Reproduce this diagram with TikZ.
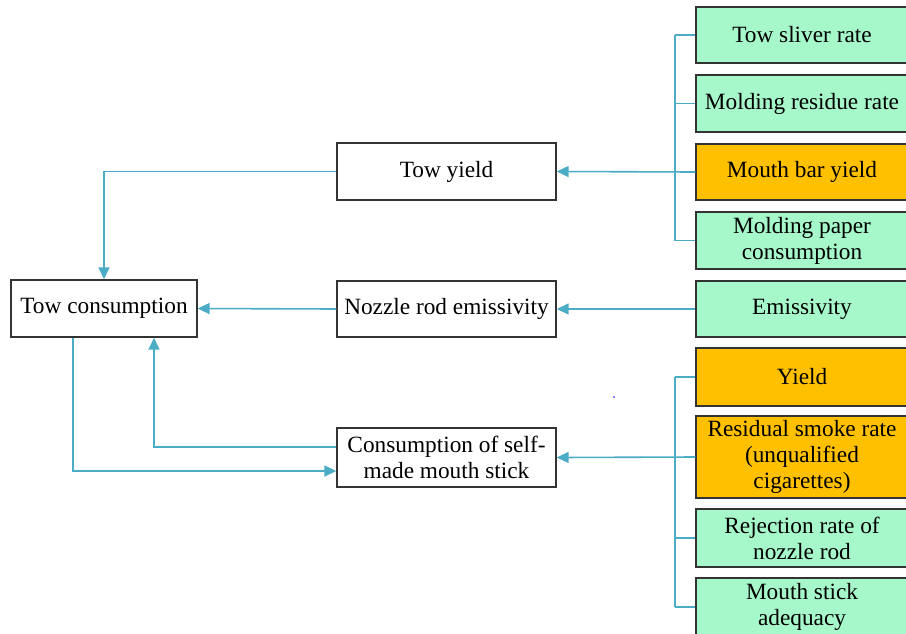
\documentclass[tikz,border=0pt]{standalone}
\usepackage{fontspec}
\setmainfont{Liberation Serif}
\usetikzlibrary{arrows.meta}
\definecolor{mint}{HTML}{A6F7C9}
\definecolor{amber}{HTML}{FFC000}
\definecolor{conncol}{HTML}{4BACC6}
\begin{document}
\begin{tikzpicture}[x=1pt,y=-1pt,
  box/.style={draw=black!80, line width=1.4pt, align=center, inner sep=0pt,
    font=\fontsize{23.3}{26}\selectfont},
  midbox/.style={box, fill=white, minimum width=219pt},
  leftbox/.style={box, fill=mint, minimum width=212pt},
  leftorange/.style={box, fill=amber, minimum width=212pt},
  conn/.style={draw=conncol, line width=1.6pt},
  arr/.style={conn, -{Triangle[length=12pt,width=11pt]}}]
\useasboundingbox (0,0) rectangle (906,633);
% left and middle column
\node[box, fill=white, minimum width=186pt, minimum height=57pt] (towcons) at (104,308.5) {Tow consumption};
\node[midbox, minimum height=57pt] (towyield) at (446.5,171.5) {Tow yield};
\node[midbox, minimum height=56pt] (nozzle) at (446.5,309) {Nozzle rod emissivity};
\node[midbox, minimum height=59pt] (cons) at (446.5,457.5) {Consumption of self-\\made mouth stick};
% right column
\node[leftbox, minimum height=56pt] (s1) at (802,35) {Tow sliver rate};
\node[leftbox, minimum height=57pt] (s2) at (802,103.5) {Molding residue rate};
\node[leftorange, minimum height=56pt] (s3) at (802,172) {Mouth bar yield};
\node[leftbox, minimum height=57pt] (s4) at (802,240.5) {Molding paper\\consumption};
\node[leftbox, minimum height=56pt] (em) at (802,309) {Emissivity};
\node[leftorange, minimum height=58pt] (y1) at (802,377) {Yield};
\node[leftorange, minimum height=82pt] (y2) at (802,457) {Residual smoke rate\\(unqualified\\cigarettes)};
\node[leftbox, minimum height=58pt] (y3) at (802,538) {Rejection rate of\\nozzle rod};
\node[leftbox, minimum height=58pt] (y4) at (802,607) {Mouth stick\\adequacy};
\coordinate (busx) at (675,0);
% group 1 bus
\foreach \n in {s1,s2,s4} \draw[conn] (\n.west) -- (\n.west -| busx);
\draw[conn] (s1.west -| busx) -- (s4.west -| busx);
\draw[arr] (s3.west) -- (towyield.east);
% emissivity
\draw[arr] (em.west) -- (nozzle.east);
% group 3 bus
\foreach \n in {y1,y3,y4} \draw[conn] (\n.west) -- (\n.west -| busx);
\draw[conn] (y1.west -| busx) -- (y4.west -| busx);
\draw[arr] (y2.west) -- (cons.east);
% left side
\draw[arr] (towyield.west) -| (towcons.north);
\draw[arr] (nozzle.west) -- (towcons.east);
\draw[arr] ([yshift=10.5pt]cons.west) -| ([xshift=50pt]towcons.south);
\draw[arr] ([xshift=-31pt]towcons.south) |- ([yshift=-13.5pt]cons.west);
% stray dot
\fill[blue] (614,397) circle (0.9pt);
\end{tikzpicture}
\end{document}
